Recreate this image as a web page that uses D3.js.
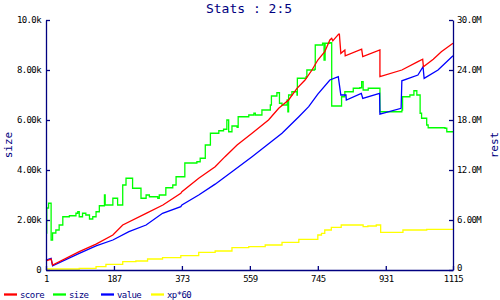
<!DOCTYPE html>
<html>
<head>
<meta charset="utf-8">
<script src="https://cdn.jsdelivr.net/npm/d3@7"></script>
<style>
  body { margin: 0; background: #fff; }
  svg { display: block; }
  .tick text { font-family: "DejaVu Sans Mono", monospace; font-size: 9px; letter-spacing: -0.6px; fill: #000; }
</style>
</head>
<body>
<div id="chart"></div>
<script>
// x positions (game ticks) and values
const xTicks = [1, 187, 373, 559, 745, 931, 1115];
const sizeTicks = [0, 2000, 4000, 6000, 8000, 10000];
const restTicks = [0, 6, 12, 18, 24, 30]; // millions

const scoreX = [1, 15, 19, 92, 138, 184, 211, 275, 321, 370, 373, 419, 464, 491, 524, 565, 610, 638, 665, 688, 710, 729, 745, 764, 778, 783, 786, 802, 804, 808, 819, 820, 865, 868, 915, 915, 975, 1019, 1032, 1034, 1061, 1083, 1115];
const scoreY = [1.1, 1.3, 0.6, 2.2, 3.1, 4.2, 5.4, 6.8, 7.8, 9.2, 9.4, 11.0, 12.4, 13.6, 15.0, 16.4, 18.0, 19.4, 20.4, 21.8, 22.8, 24.0, 25.2, 26.2, 27.6, 27.8, 27.5, 28.3, 28.3, 26.0, 26.4, 25.7, 26.5, 25.6, 26.4, 23.2, 24.0, 25.0, 25.3, 24.4, 25.3, 26.2, 27.2];

const valueX = [1, 15, 19, 92, 138, 184, 228, 275, 320, 370, 373, 419, 464, 510, 565, 606, 647, 693, 720, 745, 778, 801, 808, 822, 823, 864, 868, 914, 915, 973, 975, 1019, 1033, 1036, 1074, 1115];
const valueY = [1.2, 1.4, 0.5, 2.0, 2.9, 3.6, 4.6, 5.4, 6.8, 7.6, 7.8, 9.0, 10.3, 11.8, 13.6, 15.0, 16.4, 18.4, 19.6, 21.1, 22.8, 23.2, 21.0, 21.0, 20.4, 21.2, 20.6, 21.2, 18.7, 19.4, 22.7, 23.4, 24.4, 23.0, 24.0, 25.7];

const sizeX = [1, 3, 8, 15, 19, 28, 37, 47, 65, 83, 88, 92, 101, 110, 120, 129, 138, 147, 161, 161, 163, 174, 184, 188, 197, 211, 220, 236, 238, 252, 261, 275, 284, 293, 307, 311, 329, 348, 357, 373, 381, 414, 423, 437, 451, 474, 487, 496, 501, 510, 524, 527, 556, 570, 574, 592, 615, 618, 633, 640, 647, 661, 663, 665, 674, 688, 689, 713, 715, 736, 738, 758, 762, 765, 778, 783, 806, 810, 819, 842, 860, 865, 869, 883, 915, 975, 977, 997, 1008, 1016, 1025, 1029, 1043, 1047, 1093, 1098, 1115];
const sizeY = [1480, 2480, 2670, 1200, 1480, 1600, 1800, 2130, 2170, 2270, 2330, 2130, 2270, 2200, 2040, 2130, 2330, 2570, 2600, 3000, 2600, 2600, 2870, 2870, 2600, 3400, 3670, 3670, 3270, 3270, 2870, 3000, 2930, 2930, 2870, 3000, 3290, 3400, 3730, 3730, 4280, 4330, 4470, 5000, 5470, 5570, 5630, 6000, 5530, 5760, 5710, 6130, 6200, 6270, 6200, 6400, 6600, 6960, 7090, 6670, 6600, 6800, 6330, 7000, 7130, 7000, 7670, 7730, 8000, 8030, 9000, 9070, 8400, 9070, 9090, 6560, 6560, 6930, 7130, 7270, 7290, 7530, 7200, 7270, 6330, 6400, 6930, 7000, 7170, 7000, 6270, 6070, 5800, 5690, 5670, 5530, 5530];

const xpX = [1, 92, 138, 165, 211, 247, 279, 320, 370, 419, 464, 510, 556, 601, 647, 693, 745, 755, 764, 782, 809, 869, 882, 905, 917, 978, 1043, 1115];
const xpY = [0.12, 0.2, 0.4, 0.68, 1.0, 1.08, 1.32, 1.48, 1.72, 2.12, 2.28, 2.68, 2.8, 3.0, 3.32, 3.68, 4.2, 4.4, 4.8, 5.12, 5.4, 5.2, 5.28, 5.4, 4.52, 4.8, 4.88, 4.88];

const legendNames = ['score', 'size', 'value', 'xp*60'];
const colors = ['#ff0000', '#00ff00', '#0000ff', '#ffff00'];

const width = 500, height = 300;
const navy = '#000080';

const svg = d3.select('#chart').append('svg')
    .attr('width', width)
    .attr('height', height);

const x = d3.scaleLinear().domain([1, 1115]).range([46, 453]);
const yL = d3.scaleLinear().domain([0, 10000]).range([270, 20]);
const yR = d3.scaleLinear().domain([0, 30]).range([270, 20]);

// series
const series = [
    {xs: scoreX, ys: scoreY, y: yR, curve: d3.curveLinear},
    {xs: sizeX, ys: sizeY, y: yL, curve: d3.curveStepAfter},
    {xs: valueX, ys: valueY, y: yR, curve: d3.curveLinear},
    {xs: xpX, ys: xpY, y: yR, curve: d3.curveStepAfter}
];
// draw yellow first, then size, value, score on top
[3, 1, 2, 0].forEach(i => {
    const s = series[i];
    const pts = s.xs.map((d, j) => [d, s.ys[j]]);
    const line = d3.line()
        .x(d => x(d[0]))
        .y(d => s.y(d[1]))
        .curve(s.curve);
    svg.append('path')
        .datum(pts)
        .attr('fill', 'none')
        .attr('stroke', colors[i])
        .attr('stroke-width', 1.3)
        .attr('d', line);
});

const fmtL = v => v === 0 ? '0' : (v / 1000).toFixed(v >= 10000 ? 1 : 2) + 'k';
const fmtR = v => v === 0 ? '0' : v.toFixed(v >= 10 ? 1 : 2) + 'M';

function styleAxis(g) {
    g.select('.domain').attr('stroke', navy).attr('stroke-width', 1.3);
    g.selectAll('.tick line').attr('stroke', navy).attr('stroke-width', 1.3);
}

svg.append('g')
    .attr('transform', 'translate(0,270)')
    .call(d3.axisBottom(x).tickValues(xTicks).tickSize(-4).tickSizeOuter(0).tickPadding(6).tickFormat(d3.format('d')))
    .call(styleAxis);

svg.append('g')
    .attr('transform', 'translate(46,0)')
    .call(d3.axisLeft(yL).tickValues(sizeTicks).tickSize(-4).tickSizeOuter(0).tickPadding(5).tickFormat(fmtL))
    .call(styleAxis);

svg.append('g')
    .attr('transform', 'translate(453,0)')
    .call(d3.axisRight(yR).tickValues(restTicks).tickSize(-4).tickSizeOuter(0).tickPadding(4).tickFormat(fmtR))
    .call(styleAxis)
    .call(g => g.selectAll('.tick text').filter(d => d === 0).attr('dy', '0.1em'));

// title and axis names
svg.append('text')
    .attr('x', 249).attr('y', 13)
    .attr('text-anchor', 'middle')
    .attr('font-family', 'DejaVu Sans Mono, monospace')
    .attr('font-size', 13)
    .attr('fill', navy)
    .text('Stats : 2:5');

svg.append('text')
    .attr('transform', 'translate(12,145) rotate(-90)')
    .attr('text-anchor', 'middle')
    .attr('font-family', 'DejaVu Sans Mono, monospace')
    .attr('font-size', 11)
    .attr('fill', navy)
    .text('size');

svg.append('text')
    .attr('transform', 'translate(498,145) rotate(-90)')
    .attr('text-anchor', 'middle')
    .attr('font-family', 'DejaVu Sans Mono, monospace')
    .attr('font-size', 11)
    .attr('fill', navy)
    .text('rest');

// legend
const legendX = [4, 53, 101, 151];
const legend = svg.append('g');
legendNames.forEach((name, i) => {
    legend.append('line')
        .attr('x1', legendX[i]).attr('x2', legendX[i] + 13)
        .attr('y1', 294.5).attr('y2', 294.5)
        .attr('stroke', colors[i])
        .attr('stroke-width', 2.3);
    legend.append('text')
        .attr('x', legendX[i] + 16).attr('y', 297.5)
        .attr('font-family', 'DejaVu Sans Mono, monospace')
        .attr('font-size', 9)
        .attr('letter-spacing', '-0.6px')
        .attr('fill', navy)
        .text(name);
});
</script>
</body>
</html>
